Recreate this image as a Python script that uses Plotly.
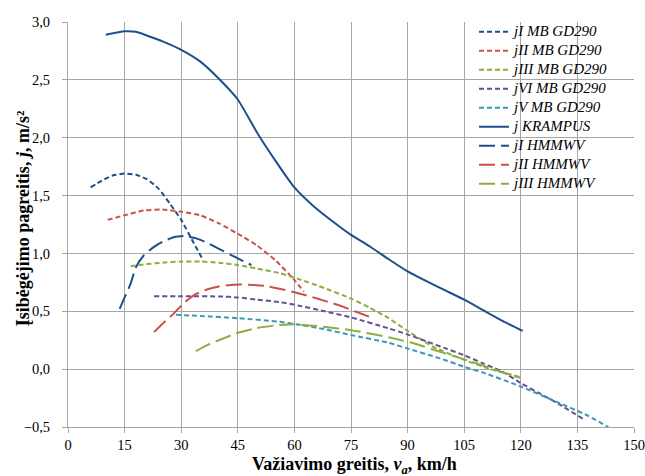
import plotly.graph_objects as go

# Acceleration vs. driving speed for MB GD290 gears, KRAMPUS and HMMWV gears
mb1_v = [6, 9, 12, 15, 18, 21, 24, 27, 30, 33, 35.5]
mb1_j = [1.57, 1.63, 1.675, 1.69, 1.68, 1.64, 1.56, 1.43, 1.29, 1.11, 0.96]

mb2_v = [10.5, 15, 20, 25, 30, 35, 40, 45, 50, 55, 60, 62.5]
mb2_j = [1.29, 1.33, 1.37, 1.38, 1.36, 1.33, 1.26, 1.17, 1.07, 0.94, 0.77, 0.67]

mb3_v = [16.6, 20, 25, 30, 35, 40, 45, 50, 56, 61, 68, 75, 80, 85, 90, 97, 105, 112, 120]
mb3_j = [0.89, 0.905, 0.92, 0.93, 0.93, 0.92, 0.90, 0.87, 0.83, 0.78, 0.70, 0.61,
         0.53, 0.44, 0.33, 0.19, 0.08, 0.00, -0.07]

mb4_v = [22.8, 30, 40, 45, 50, 56, 61, 68, 75, 85, 90, 95, 100, 105, 110, 115,
         120, 125, 130, 136.5]
mb4_j = [0.63, 0.63, 0.628, 0.62, 0.60, 0.58, 0.55, 0.50, 0.447, 0.352, 0.30,
         0.24, 0.18, 0.12, 0.05, -0.02, -0.12, -0.21, -0.30, -0.43]

mb5_v = [28.6, 35, 45, 56, 61, 68, 75, 85, 90, 98.6, 105, 110, 120, 130, 137, 143.2]
mb5_j = [0.47, 0.46, 0.44, 0.41, 0.385, 0.345, 0.295, 0.228, 0.178, 0.093, 0.02,
         -0.03, -0.15, -0.29, -0.39, -0.5]

kr_v = [10, 15, 18, 22, 26, 30, 35, 40, 45, 50, 55, 60, 65, 70, 75, 80, 85, 90,
        95, 100, 105, 110, 115, 120.5]
kr_j = [2.89, 2.92, 2.915, 2.87, 2.82, 2.76, 2.66, 2.51, 2.33, 2.05, 1.80, 1.57,
        1.41, 1.28, 1.16, 1.06, 0.95, 0.845, 0.76, 0.68, 0.60, 0.51, 0.42, 0.33]

hm1_v = [13.7, 15, 16.5, 18, 20, 22.5, 25, 28, 31, 34, 37, 40, 43, 46, 48.6]
hm1_j = [0.52, 0.62, 0.73, 0.88, 0.98, 1.05, 1.10, 1.14, 1.15, 1.13, 1.09, 1.04,
         0.99, 0.94, 0.90]

hm2_v = [22.8, 25, 28, 31, 34, 37, 40, 44, 48, 52, 56, 60, 64, 68, 72, 76, 80.5]
hm2_j = [0.32, 0.39, 0.48, 0.58, 0.65, 0.69, 0.715, 0.73, 0.73, 0.72, 0.695,
         0.665, 0.63, 0.59, 0.55, 0.50, 0.445]

hm3_v = [33.9, 37, 40, 45, 50, 55, 60, 66, 75, 85, 92, 98.6, 106, 113.6, 119.8]
hm3_j = [0.156, 0.21, 0.25, 0.314, 0.355, 0.378, 0.388, 0.372, 0.337, 0.275,
         0.22, 0.15, 0.075, -0.01, -0.075]

x_ticks = list(range(0, 151, 15))
y_ticks = [-0.5, 0.0, 0.5, 1.0, 1.5, 2.0, 2.5, 3.0]

BLUE = "#1F4E8C"
RED = "#CC4F4C"
GREEN = "#8AAE3F"
PURPLE = "#67508F"
AQUA = "#3B9AB2"

SHORT = "5px,3px"
LONG = "16px,6px"

series = [
    ("jI MB GD290", mb1_v, mb1_j, BLUE, SHORT),
    ("jII MB GD290", mb2_v, mb2_j, RED, SHORT),
    ("jIII MB GD290", mb3_v, mb3_j, GREEN, SHORT),
    ("jVI MB GD290", mb4_v, mb4_j, PURPLE, SHORT),
    ("jV MB GD290", mb5_v, mb5_j, AQUA, SHORT),
    ("j KRAMPUS", kr_v, kr_j, BLUE, "solid"),
    ("jI HMMWV", hm1_v, hm1_j, BLUE, LONG),
    ("jII HMMWV", hm2_v, hm2_j, RED, LONG),
    ("jIII HMMWV", hm3_v, hm3_j, GREEN, LONG),
]

fig = go.Figure()
for name, xs, ys, color, dash in series:
    fig.add_trace(go.Scatter(
        x=xs, y=ys, mode="lines",
        # larger glyphs than the legend's row pitch, for a compact key
        name=f'<span style="font-size:15px">{name}</span>',
        line=dict(color=color, width=2, dash=dash, shape="spline", smoothing=0.5),
    ))

SERIF = "Liberation Serif, Times New Roman, DejaVu Serif, serif"
GRID = "#a6a6a6"

fig.update_layout(
    width=645, height=476,
    margin=dict(l=68, r=11, t=22, b=49),
    paper_bgcolor="white", plot_bgcolor="white",
    separators=", ",
    font=dict(family=SERIF, size=14, color="black"),
    showlegend=True,
    legend=dict(
        x=0.7173, xanchor="left", y=1.012, yanchor="top",
        bgcolor="rgba(0,0,0,0)", borderwidth=0,
        font=dict(family=SERIF, size=12, style="italic", color="black"),
        itemwidth=30, tracegroupgap=0,
    ),
    shapes=[dict(
        type="rect", xref="paper", yref="paper",
        x0=0.705, x1=0.995, y0=0.577, y1=0.995,
        fillcolor="white", line=dict(width=0), layer="between",
    )],
    annotations=[
        dict(
            text="Važiavimo greitis, <i>v<sub>a</sub></i>, km/h",
            xref="paper", yref="paper", x=0.507, y=-0.094,
            xanchor="center", yanchor="middle", showarrow=False,
            font=dict(family=SERIF, size=18, weight="bold", color="black"),
        ),
        dict(
            text="Įsibėgėjimo pagreitis, <i>j</i>, m/s²",
            xref="paper", yref="paper", x=-0.078, y=0.515,
            xanchor="center", yanchor="middle", showarrow=False, textangle=-90,
            font=dict(family=SERIF, size=18, weight="bold", color="black"),
        ),
    ],
    xaxis=dict(
        range=[0, 150], tickvals=x_ticks, ticktext=[str(v) for v in x_ticks],
        automargin=False,
        showgrid=True, gridcolor=GRID, gridwidth=1,
        showline=True, linecolor=GRID, linewidth=1,
        ticks="outside", ticklen=5, tickcolor=GRID,
        zeroline=False,
        tickfont=dict(family=SERIF, size=14.5),
    ),
    yaxis=dict(
        range=[-0.5, 3.0], tickvals=y_ticks, tickformat=".1f",
        automargin=False,
        showgrid=True, gridcolor=GRID, gridwidth=1,
        showline=True, linecolor=GRID, linewidth=1,
        ticks="outside", ticklen=5, tickcolor=GRID,
        ticklabelstandoff=9,
        zeroline=False,
        tickfont=dict(family=SERIF, size=14.5),
    ),
)

fig.write_html("out.html")
